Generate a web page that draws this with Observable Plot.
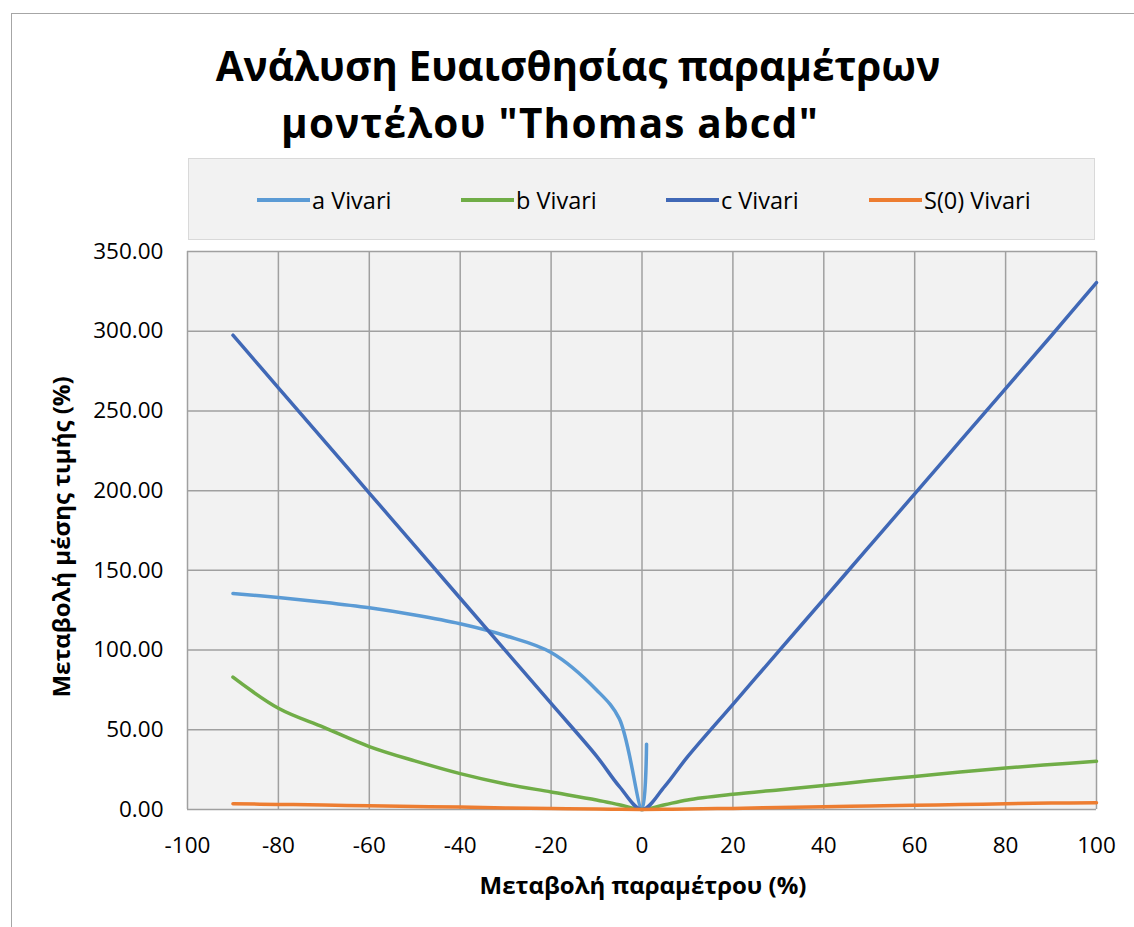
<!DOCTYPE html>
<html>
<head>
<meta charset="utf-8">
<script src="https://cdn.jsdelivr.net/npm/d3@7"></script>
<script src="https://cdn.jsdelivr.net/npm/@observablehq/plot@0.6"></script>
<style>
  html, body { margin: 0; padding: 0; background: #fff; }
  #wrap { position: relative; width: 1134px; height: 927px; overflow: hidden; font-family: "Open Sans", sans-serif; }
  #border { position: absolute; left: 11px; top: 13px; width: 1200px; height: 1000px; border: 1.5px solid #a6a6a6; box-sizing: border-box; }
  #chart { position: absolute; left: 0; top: 0; }
  .title { position: absolute; font-weight: bold; font-size: 40.5px; color: #000; white-space: nowrap; transform: translateX(-50%); line-height: 1; }
  #legend { position: absolute; left: 188px; top: 158px; width: 907px; height: 82px; background: #f2f2f2; border: 1.5px solid #d9d9d9; box-sizing: border-box; }
  .lg { position: absolute; top: 0; height: 82px; display: flex; align-items: center; font-size: 23.5px; color: #000; white-space: nowrap; }
  .lg span.sw { display: inline-block; width: 53px; height: 4px; margin-right: 2px; }
  .axlab { position: absolute; font-weight: bold; font-size: 24px; white-space: nowrap; color: #000; }
</style>
</head>
<body>
<div id="wrap">
  <div id="border"></div>
  <div id="chart"></div>
</div>
<script>
// ---- data ----
const seriesNames = ["a Vivari", "b Vivari", "c Vivari", "S(0) Vivari"];
const seriesColors = ["#5b9bd5", "#70ad47", "#4068b6", "#ed7d31"];

const aX = [-90, -80, -70, -60, -50, -40, -30, -20, -10, -5, 0, 1];
const aY = [135.5, 133, 130, 126.5, 122, 116.5, 109, 98.5, 75, 57, 0, 41];

const fullX = [-90, -80, -70, -60, -50, -40, -30, -20, -10, -5, 0, 5, 10, 20, 30, 40, 50, 60, 70, 80, 90, 100];
const bY = [83, 63.5, 51.5, 39.5, 30.5, 22.5, 16, 11, 6, 3, 0, 3, 6, 9.5, 12.3, 15, 18, 20.7, 23.5, 26, 28.2, 30.3];
const cY = [297.5, 264.5, 231.5, 198.5, 165.5, 132.5, 99.5, 66.5, 33.5, 14.5, 0, 14.5, 33, 66, 99, 132, 165, 198, 231, 264, 297, 330.5];
const sY = [3.6, 3.2, 2.8, 2.3, 1.9, 1.5, 1.0, 0.6, 0.3, 0.1, 0, 0.1, 0.3, 0.7, 1.2, 1.7, 2.2, 2.7, 3.1, 3.6, 4.0, 4.3];

const xTicks = [-100, -80, -60, -40, -20, 0, 20, 40, 60, 80, 100];
const yTicks = [0, 50, 100, 150, 200, 250, 300, 350];

const titleLines = ["Ανάλυση Ευαισθησίας παραμέτρων", "μοντέλου \"Thomas abcd\""];
const xLabel = "Μεταβολή παραμέτρου (%)";
const yLabel = "Μεταβολή μέσης τιμής (%)";

// ---- build table ----
const rows = [];
const addSeries = (name, xs, ys) => xs.forEach((x, i) => rows.push({series: name, x, y: ys[i]}));
addSeries(seriesNames[0], aX, aY);
addSeries(seriesNames[1], fullX, bY);
addSeries(seriesNames[2], fullX, cY);
addSeries(seriesNames[3], fullX, sY);

const xFmt = d => String(d);
const yFmt = d => d.toFixed(2);

const plot = Plot.plot({
  width: 1134,
  height: 927,
  marginLeft: 187,
  marginRight: 38,
  marginTop: 251,
  marginBottom: 118,
  style: {fontFamily: "Open Sans, sans-serif", fontSize: "22.5px", color: "#000", background: "transparent"},
  x: {domain: [-100, 100], label: null},
  y: {domain: [0, 350], label: null},
  color: {domain: seriesNames, range: seriesColors},
  marks: [
    Plot.frame({fill: "#f2f2f2", stroke: null}),
    Plot.ruleX(xTicks, {stroke: "#a0a0a0", strokeWidth: 1.5}),
    Plot.ruleY(yTicks, {stroke: "#a0a0a0", strokeWidth: 1.5}),
    Plot.line(rows, {x: "x", y: "y", z: "series", stroke: "series", strokeWidth: 3.5, curve: "catmull-rom"}),
    Plot.axisX({ticks: xTicks, tickSize: 0, tickPadding: 28, tickFormat: xFmt, fontSize: 22.5, label: null}),
    Plot.axisY({ticks: yTicks, tickSize: 0, tickPadding: 24, tickFormat: yFmt, fontSize: 22.5, label: null})
  ]
});
document.getElementById("chart").appendChild(plot);

const wrap = document.getElementById("wrap");
// title
const tCenters = [578, 550];
const tTops = [46, 103];
const tSpacing = [0, 1.2];
titleLines.forEach((t, i) => {
  const d = document.createElement("div");
  d.className = "title";
  d.textContent = t;
  d.style.left = tCenters[i] + "px";
  d.style.top = tTops[i] + "px";
  d.style.letterSpacing = tSpacing[i] + "px";
  wrap.appendChild(d);
});
// legend
const lg = document.createElement("div");
lg.id = "legend";
wrap.appendChild(lg);
const lgLeft = [256, 460, 665, 868];
seriesNames.forEach((n, i) => {
  const e = document.createElement("div");
  e.className = "lg";
  e.style.left = (lgLeft[i] - 188) + "px";
  const sw = document.createElement("span");
  sw.className = "sw";
  sw.style.background = seriesColors[i];
  e.appendChild(sw);
  e.appendChild(document.createTextNode(n));
  lg.appendChild(e);
});
// axis labels
const xl = document.createElement("div");
xl.className = "axlab";
xl.textContent = xLabel;
xl.style.left = "643px";
xl.style.top = "884px";
xl.style.transform = "translate(-50%, -50%)";
wrap.appendChild(xl);
const yl = document.createElement("div");
yl.className = "axlab";
yl.textContent = yLabel;
yl.style.left = "60px";
yl.style.top = "537px";
yl.style.transform = "translate(-50%, -50%) rotate(-90deg)";
wrap.appendChild(yl);
</script>
</body>
</html>
